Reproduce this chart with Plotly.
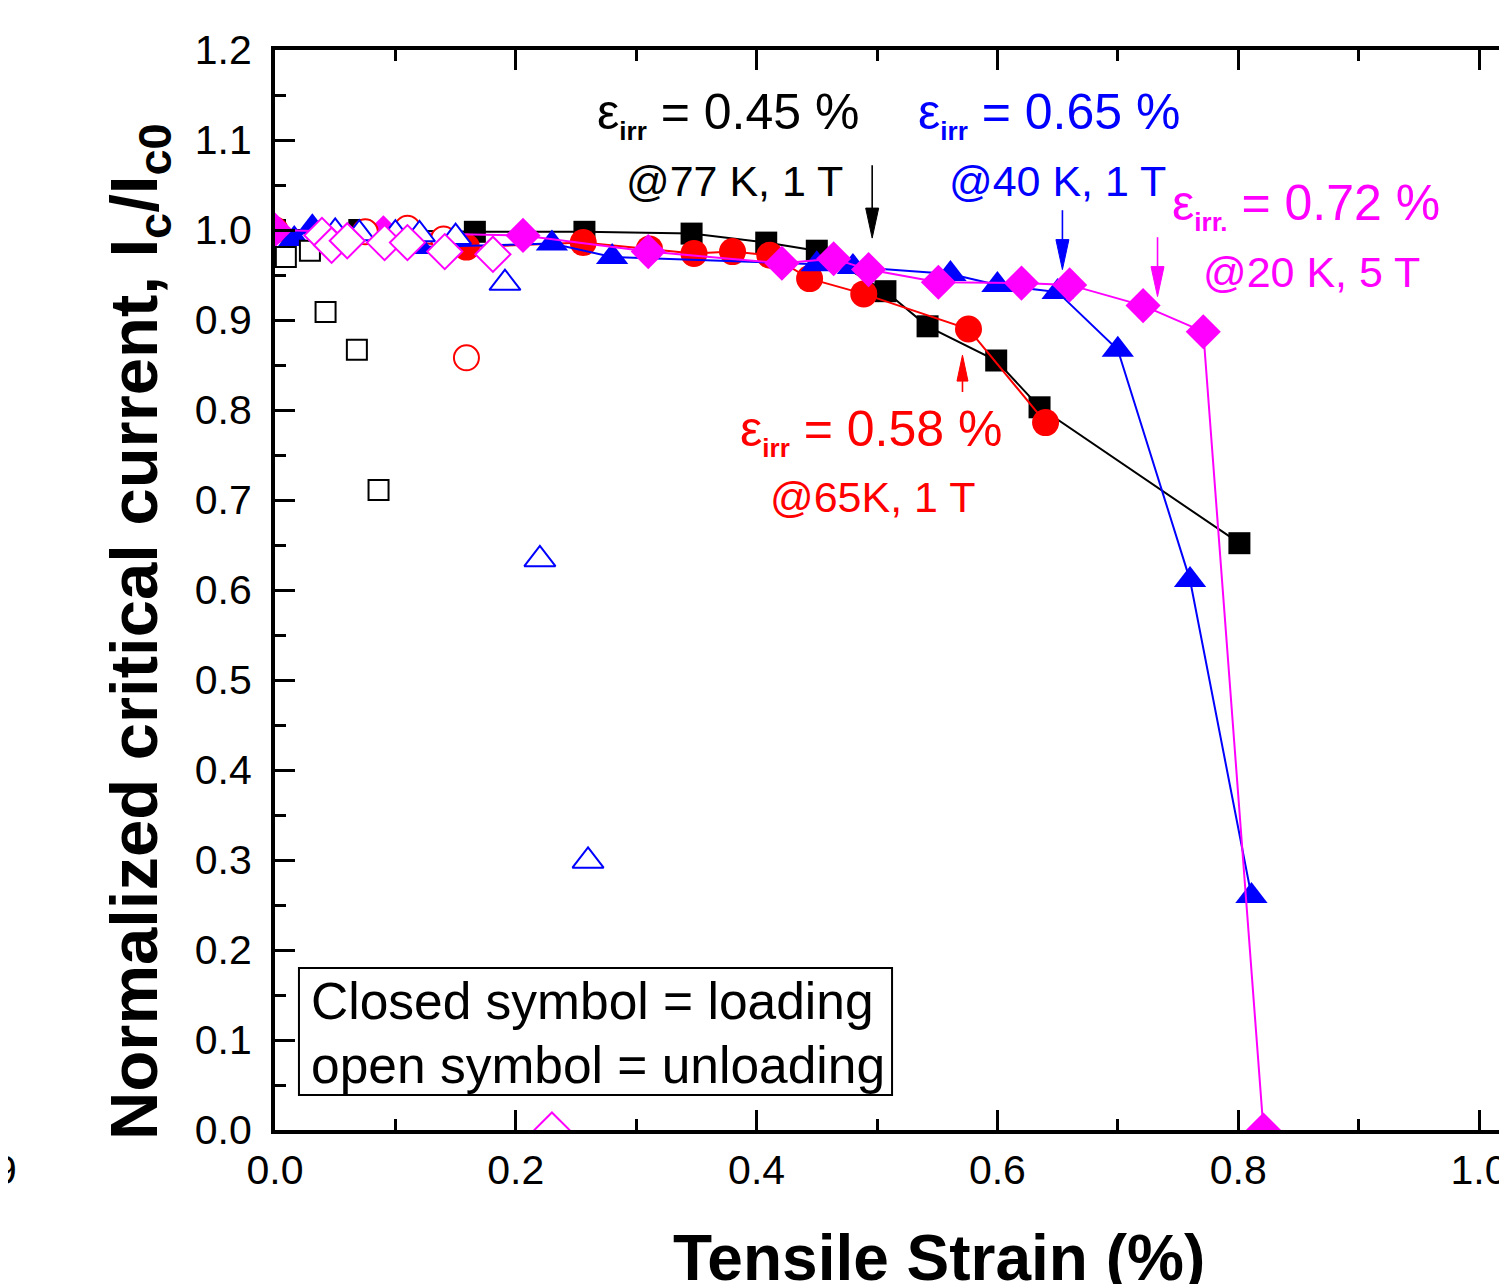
import plotly.graph_objects as go

# ---- data ----
k77_load_x = [0.0, 0.07, 0.166, 0.257, 0.346, 0.408, 0.450, 0.507, 0.542, 0.599, 0.635, 0.801]
k77_load_y = [1.0, 1.0, 0.998, 0.998, 0.996, 0.986, 0.977, 0.932, 0.893, 0.855, 0.803, 0.652]
k77_unload_x = [0.009, 0.029, 0.042, 0.068, 0.086]
k77_unload_y = [0.970, 0.977, 0.909, 0.867, 0.711]

k65_load_x = [0.0, 0.159, 0.256, 0.311, 0.348, 0.380, 0.411, 0.444, 0.489, 0.576, 0.640]
k65_load_y = [1.0, 0.981, 0.986, 0.979, 0.974, 0.976, 0.972, 0.946, 0.929, 0.890, 0.786]
k65_unload_x = [0.075, 0.110, 0.140, 0.159]
k65_unload_y = [0.998, 1.002, 0.990, 0.858]

k40_load_x = [0.0, 0.016, 0.031, 0.120, 0.230, 0.280, 0.450, 0.480, 0.561, 0.600, 0.650, 0.700, 0.760, 0.811]
k40_load_y = [1.0, 0.990, 1.003, 0.981, 0.985, 0.970, 0.962, 0.959, 0.951, 0.939, 0.931, 0.867, 0.611, 0.260]
k40_unload_x = [0.050, 0.070, 0.100, 0.120, 0.150, 0.191, 0.220, 0.260]
k40_unload_y = [0.998, 0.996, 0.996, 0.995, 0.992, 0.941, 0.634, 0.299]

k20_load_x = [0.0, 0.090, 0.206, 0.310, 0.421, 0.464, 0.493, 0.551, 0.620, 0.660, 0.721, 0.771, 0.821]
k20_load_y = [1.0, 0.997, 0.994, 0.976, 0.963, 0.968, 0.956, 0.942, 0.941, 0.939, 0.916, 0.887, 0.0]
k20_unload_x = [0.039, 0.047, 0.060, 0.091, 0.110, 0.141, 0.181, 0.230]
k20_unload_y = [0.994, 0.983, 0.988, 0.986, 0.986, 0.976, 0.973, 0.0]

x_ticks = [0.0, 0.2, 0.4, 0.6, 0.8, 1.0]
x_tick_labels = ["0.0", "0.2", "0.4", "0.6", "0.8", "1.0"]
y_ticks = [0.0, 0.1, 0.2, 0.3, 0.4, 0.5, 0.6, 0.7, 0.8, 0.9, 1.0, 1.1, 1.2]
y_tick_labels = ["0.0", "0.1", "0.2", "0.3", "0.4", "0.5", "0.6", "0.7", "0.8", "0.9", "1.0", "1.1", "1.2"]

BLACK = "#000000"
RED = "#FF0000"
BLUE = "#0000FF"
MAGENTA = "#FF00FF"
FONT = "Liberation Sans, Arial, sans-serif"

fig = go.Figure()

def loaded(x, y, color, symbol, size):
    fig.add_trace(go.Scatter(
        x=x, y=y, mode="lines+markers",
        line=dict(color=color, width=2),
        marker=dict(symbol=symbol, size=size, color=color, line=dict(width=0)),
        showlegend=False, hoverinfo="skip"))

def unloaded(x, y, color, symbol, size):
    fig.add_trace(go.Scatter(
        x=x, y=y, mode="markers",
        marker=dict(symbol=symbol, size=size, color="white", line=dict(color=color, width=2)),
        showlegend=False, hoverinfo="skip"))

loaded(k77_load_x, k77_load_y, BLACK, "square", 22)
loaded(k65_load_x, k65_load_y, RED, "circle", 27)
loaded(k40_load_x, k40_load_y, BLUE, "triangle-up", 28)
loaded(k20_load_x, k20_load_y, MAGENTA, "diamond", 27)

unloaded(k77_unload_x, k77_unload_y, BLACK, "square", 20)
unloaded(k65_unload_x, k65_unload_y, RED, "circle", 25)
unloaded(k40_unload_x, k40_unload_y, BLUE, "triangle-up", 27)
unloaded(k20_unload_x, k20_unload_y, MAGENTA, "diamond", 27)

# page body has an 8 px margin; size the figure so it ends at the viewport edge
W, H = 1499, 1276
L, R, T, B = 267, 0, 42, 154
PX_X = 1204.0   # pixels per unit strain
PX_Y = 900.0    # pixels per unit Ic/Ic0
x_max = (W - L - R) / PX_X

axis_common = dict(
    showgrid=False, zeroline=False, showline=True, linewidth=4, linecolor="black",
    ticks="inside", ticklen=20, tickwidth=3, tickcolor="black",
    tickfont=dict(family=FONT, size=41, color="black"),
    ticklabeloverflow="allow",
)

fig.update_xaxes(
    range=[0, x_max], tickvals=x_ticks, ticktext=x_tick_labels, mirror="allticks",
    minor=dict(ticks="inside", ticklen=11, tickwidth=3, tickcolor="black", dtick=0.1, tick0=0),
    ticklabelstandoff=1,
    **axis_common)
fig.update_yaxes(
    range=[0, 1.2], tickvals=y_ticks, ticktext=y_tick_labels, mirror=False,
    minor=dict(ticks="inside", ticklen=11, tickwidth=3, tickcolor="black", dtick=0.05, tick0=0),
    ticklabelstandoff=11,
    **axis_common)

def ann(text, x, y, color, size, **kw):
    fig.add_annotation(text=text, x=x, y=y, xref="x", yref="y", showarrow=False,
                       xanchor="center", yanchor="middle",
                       font=dict(family=FONT, size=size, color=color), **kw)

def eps(sub, value):
    return ("ε<sub><span style='font-size:26px;font-weight:bold'>%s</span></sub> = %s" % (sub, value))

ann(eps("irr", "0.45 %"), 0.376, 1.128, BLACK, 50)
ann("@77 K, 1 T", 0.382, 1.054, BLACK, 43)
ann(eps("irr", "0.65 %"), 0.643, 1.128, BLUE, 50)
ann("@40 K, 1 T", 0.650, 1.054, BLUE, 43)
ann(eps("irr.", "0.72 %"), 0.856, 1.027, MAGENTA, 50)
ann("@20 K, 5 T", 0.861, 0.953, MAGENTA, 43)
ann(eps("irr", "0.58 %"), 0.495, 0.776, RED, 50)
ann("@65K, 1 T", 0.496, 0.703, RED, 43)

def arrow(x, y_tip, y_tail, color, head_px=30.0, half_w_px=6.5):
    d = 1.0 if y_tail > y_tip else -1.0
    base = y_tip + d * head_px / PX_Y
    hw = half_w_px / PX_X
    fig.add_shape(type="line", x0=x, x1=x, y0=y_tail, y1=base, xref="x", yref="y",
                  line=dict(color=color, width=1.6))
    fig.add_shape(type="path", xref="x", yref="y",
                  path="M %f,%f L %f,%f L %f,%f Z" % (x, y_tip, x - hw, base, x + hw, base),
                  fillcolor=color, line=dict(color=color, width=1))

arrow(0.496, 0.991, 1.072, BLACK)
arrow(0.654, 0.956, 1.022, BLUE)
arrow(0.733, 0.926, 0.992, MAGENTA)
arrow(0.571, 0.861, 0.820, RED, head_px=26, half_w_px=5.5)

# legend-like box
fig.add_shape(type="rect", xref="x", yref="y", x0=0.0199, x1=0.5125, y0=0.0389, y1=0.18,
              line=dict(color="black", width=2), fillcolor="white", layer="above")
fig.add_annotation(text="Closed symbol = loading", x=0.028, y=0.143, xref="x", yref="y",
                   showarrow=False, xanchor="left", yanchor="middle",
                   font=dict(family=FONT, size=51.5, color="black"))
fig.add_annotation(text="open symbol = unloading", x=0.028, y=0.072, xref="x", yref="y",
                   showarrow=False, xanchor="left", yanchor="middle",
                   font=dict(family=FONT, size=51.5, color="black"))

def px_paper(vx, vy):
    # viewport pixel -> paper coordinates
    return (vx - 8 - L) / (W - L - R), (H - B - (vy - 8)) / (H - T - B)

# axis titles
tx, ty = px_paper(138, 632)
fig.add_annotation(text="Normalized critical current, I<sub>c</sub>/I<sub>c0</sub>",
                   x=tx, y=ty, xref="paper", yref="paper", showarrow=False, textangle=-90,
                   xanchor="center", yanchor="middle",
                   font=dict(family=FONT, size=67, color="black", weight="bold"))
tx, ty = px_paper(939, 1258)
fig.add_annotation(text="Tensile Strain (%)",
                   x=tx, y=ty, xref="paper", yref="paper", showarrow=False,
                   xanchor="center", yanchor="middle",
                   font=dict(family=FONT, size=64, color="black", weight="bold"))

# fragment of a neighbouring tick label at the far left edge
tx, ty = px_paper(19, 1170)
fig.add_annotation(text="9", x=tx, y=ty, xref="paper", yref="paper", showarrow=False,
                   xanchor="right", yanchor="middle",
                   font=dict(family=FONT, size=41, color="black"))

fig.update_layout(
    width=W, height=H, margin=dict(l=L, r=R, t=T, b=B, pad=0),
    paper_bgcolor="white", plot_bgcolor="white", showlegend=False,
)

fig.write_html("out.html")
